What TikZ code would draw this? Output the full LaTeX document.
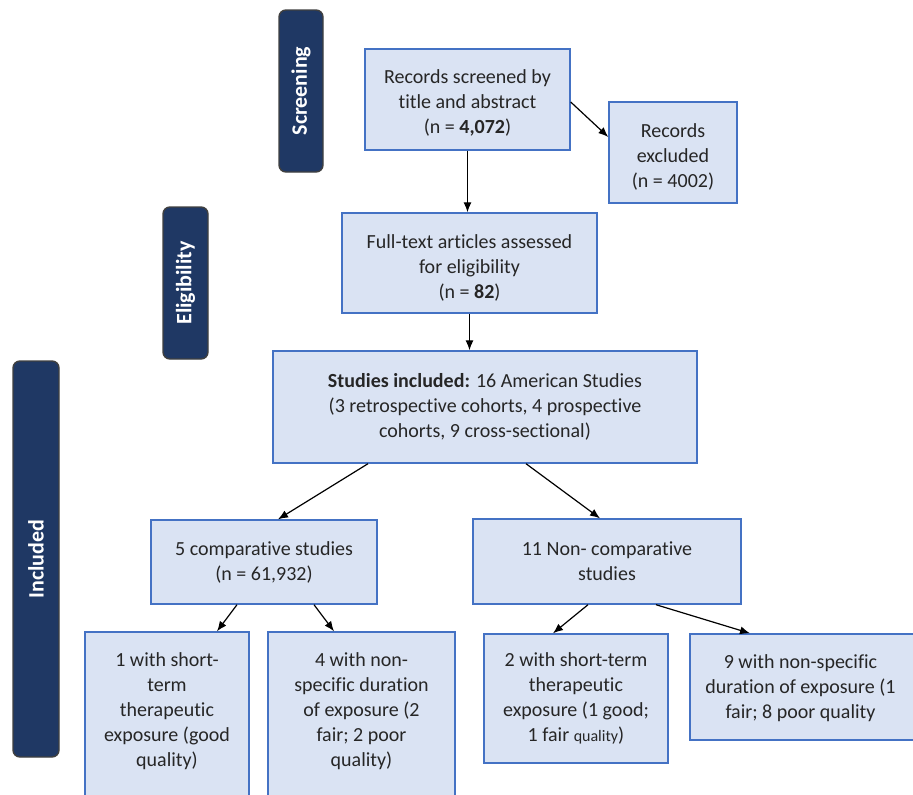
\documentclass[tikz,border=0pt]{standalone}
\usepackage{fontspec}
\setmainfont{Carlito}[Ligatures=NoCommon]
\usetikzlibrary{arrows.meta}
\definecolor{boxfill}{HTML}{DAE3F3}
\definecolor{boxline}{HTML}{4472C4}
\definecolor{navy}{HTML}{1F3864}
\definecolor{txt}{HTML}{262626}
\tikzset{
  flowbox/.style={draw=boxline, fill=boxfill, line width=1.4pt, inner sep=0pt,
    align=center, text=txt, font=\fontsize{20}{25}\selectfont},
  flowtext/.style={inner sep=0pt, align=center, text=txt, font=\fontsize{20}{25}\selectfont},
  phase/.style={draw=black!75, fill=navy, line width=1.4pt, rounded corners=7pt,
    inner sep=0pt},
  phasetext/.style={text=white, font=\fontsize{22}{26}\selectfont\bfseries, rotate=90},
  flowarrow/.style={draw=black, line width=1.2pt, -{Latex[length=10pt,width=8pt]}}
}
\begin{document}
\begin{tikzpicture}[x=1pt,y=-1pt]
\useasboundingbox (0,0) rectangle (913,795);
\clip (0,0) rectangle (913,795);

% phase labels
\node[phase, minimum width=44pt, minimum height=162pt] (lscr) at (301,91) {};
\node[phasetext] (tscr) at (lscr.center) {Screening};
\node[phase, minimum width=45pt, minimum height=152pt] (lel) at (185.5,283) {};
\node[phasetext] (tel) at (lel.center) {Eligibility};
\node[phase, minimum width=46pt, minimum height=396pt] (linc) at (36,559) {};
\node[phasetext] (tinc) at (linc.center) {Included};

% boxes
\node[flowbox, minimum width=205pt, minimum height=101pt] (screen) at (467.5,99.5) {};
\node[flowtext] (screent) at (467.5,102.5)
  {Records screened by\\title and abstract\\(n = \textbf{4,072})};
\node[flowbox, minimum width=128pt, minimum height=101pt] (excl) at (673,152.5) {};
\node[flowtext] (exclt) at (673,156.5)
  {Records\\excluded\\(n = 4002)};
\node[flowbox, minimum width=255pt, minimum height=100pt] (full) at (469.5,263) {};
\node[flowtext] (fullt) at (469.5,267.5)
  {Full-text articles assessed\\for eligibility\\(n = \textbf{82})};
\node[flowbox, minimum width=424pt, minimum height=112pt] (studies) at (485,407)
  {\textbf{Studies included:} 16 American Studies\\(3 retrospective cohorts, 4 prospective\\cohorts, 9 cross-sectional)};
\node[flowbox, minimum width=226pt, minimum height=84pt] (comp) at (264,562)
  {5 comparative studies\\(n = 61,932)};
\node[flowbox, minimum width=268pt, minimum height=85pt] (noncomp) at (607,561.5)
  {11 Non- comparative\\studies};
\node[flowbox, minimum width=164pt, minimum height=173pt] (bone) at (167,718.5) {};
\node[flowtext] (bonet) at (167,711.5)
  {1 with short-\\term\\therapeutic\\exposure (good\\quality)};
\node[flowbox, minimum width=187pt, minimum height=173pt] (bfour) at (361.5,718.5) {};
\node[flowtext] (bfourt) at (361.5,711.5)
  {4 with non-\\specific duration\\of exposure (2\\fair; 2 poor\\quality)};
\node[flowbox, minimum width=184pt, minimum height=129pt] (btwo) at (576,698.5)
  {2 with short-term\\therapeutic\\exposure (1 good;\\1 fair {\fontsize{16}{25}\selectfont quality})};
\node[flowbox, minimum width=230pt, minimum height=106pt] (bnine) at (805,687) {};
\node[flowtext] (bninet) at (800.5,688)
  {9 with non-specific\\duration of exposure (1\\fair; 8 poor quality};

% connectors
\draw[flowarrow] (screen.south) -- (screen.south |- full.north);
\draw[flowarrow] ([yshift=-2.5pt]screen.east) -- ([yshift=15.5pt]excl.west);
\draw[flowarrow] (full.south) -- (full.south |- studies.north);
\draw[flowarrow] ([xshift=-117pt]studies.south) -- ([xshift=14pt]comp.north);
\draw[flowarrow] ([xshift=41pt]studies.south) -- ([xshift=-7pt]noncomp.north);
\draw[flowarrow] ([xshift=-27pt]comp.south) -- ([xshift=50pt]bone.north);
\draw[flowarrow] ([xshift=50pt]comp.south) -- ([xshift=-27.5pt]bfour.north);
\draw[flowarrow] ([xshift=-19pt]noncomp.south) -- ([xshift=-23pt]btwo.north);
\draw[flowarrow] ([xshift=49pt]noncomp.south) -- ([xshift=-55pt]bnine.north);
\end{tikzpicture}
\end{document}
